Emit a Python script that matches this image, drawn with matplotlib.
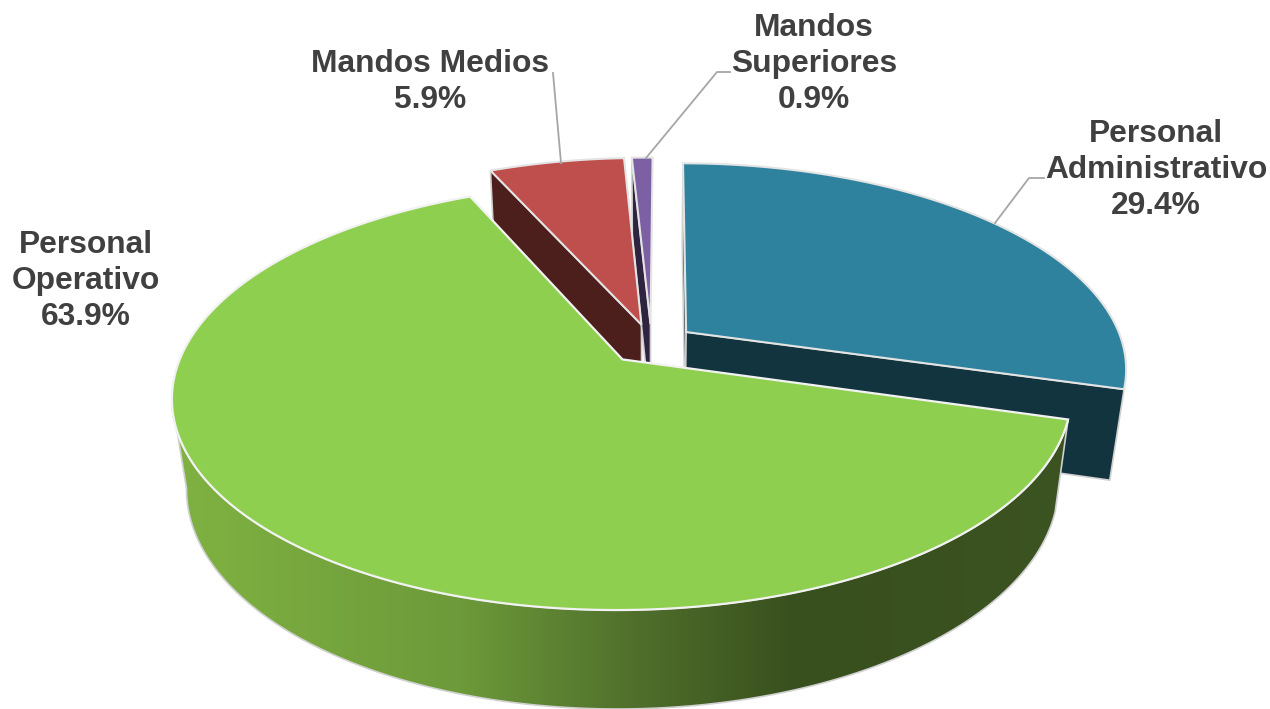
import numpy as np
import matplotlib
matplotlib.use("Agg")
import matplotlib.pyplot as plt
from matplotlib.colors import LinearSegmentedColormap
from matplotlib.patches import Polygon

plt.rcParams['font.family'] = ['Liberation Sans', 'DejaVu Sans']

# data
categorias = ["Personal\nAdministrativo", "Personal\nOperativo", "Mandos Medios", "Mandos\nSuperiores"]
valores = [29.4, 63.9, 5.9, 0.9]
color_top = ["#2E829E", "#8FCF50", "#BE4F4C", "#7D5FA3"]
color_side = ["#12343F", "#3A5120", "#4C1E1C", "#2E2440"]

# label placement (pixels)
pos_label = [(1156, 170), (86, 281), (430, 82), (814, 64)]
lideres = [[(995, 223), (1029, 178), (1044, 178)],
           [],
           [(561, 163), (553, 73)],
           [(646, 158), (717, 72), (730, 72)]]

# 3d view of the pie
cx, cy = 651.5, 344
rx, ry = 437, 201.6
k, kz = 0.172, 0.03
alto = 91.6
explode = 0.1
inicio = 0.3


def proj(u, v, z=0.0):
    w = 1 + k * np.asarray(v) + kz * z
    return cx + rx * np.asarray(u) / w, cy + (-ry * np.asarray(v) + alto * z) / w


fig = plt.figure(figsize=(12.7, 7.09), dpi=100)
ax = fig.add_axes([0, 0, 1, 1])

total = sum(valores)
angulos = inicio + np.cumsum([0] + valores) / total * 360
slices = []
for i in range(len(valores)):
    a0, a1 = angulos[i], angulos[i + 1]
    mid = np.radians((a0 + a1) / 2)
    du, dv = explode * np.sin(mid), explode * np.cos(mid)
    t = np.radians(np.linspace(a0, a1, 400))
    slices.append((du, dv, t))


def rim(i, z=0.0):
    du, dv, t = slices[i]
    return np.column_stack(proj(du + np.sin(t), dv + np.cos(t), z))


def apex(i, z=0.0):
    du, dv, t = slices[i]
    return np.array(proj(du, dv, z))


def cara(i, extremo):
    # flat cut face between apex and one end of the rim
    r0, r1 = rim(i), rim(i, 1.0)
    idx = 0 if extremo == 0 else -1
    return [apex(i), r0[idx], r1[idx], apex(i, 1.0)]


def pared(i):
    # visible wall only: from the slice end round to the left silhouette
    arriba, abajo = rim(i), rim(i, 1.0)
    ia, ib = np.argmin(arriba[:, 0]), np.argmin(abajo[:, 0])
    return np.vstack([arriba[:ia + 1], abajo[:ib + 1][::-1]])


borde = "#D0D0D0"
# back slices first: faces, then tops
for i, extremo in [(0, 0), (0, 1), (2, 0), (3, 0)]:
    ax.add_patch(Polygon(cara(i, extremo), closed=True, fc=color_side[i], ec=borde, lw=1.2, zorder=2))
for i in [0, 2, 3]:
    ax.add_patch(Polygon(np.vstack([apex(i), rim(i)]), closed=True, fc=color_top[i], ec="#E4E4E4", lw=1.5, zorder=3))

# green wall with horizontal gradient
grad_x = [165, 460, 640, 800, 1075]
grad_c = ["#80B342", "#6D9A3A", "#4F6E2B", "#384F1E", "#3C5421"]
pos = [(x - grad_x[0]) / (grad_x[-1] - grad_x[0]) for x in grad_x]
cmap = LinearSegmentedColormap.from_list("verde", list(zip(pos, grad_c)))
clip = Polygon(pared(1), closed=True, fc="none", ec=borde, lw=1.2, zorder=5)
ax.add_patch(clip)
img = ax.imshow(np.linspace(0, 1, 512)[None, :], cmap=cmap, aspect="auto", zorder=4,
                extent=(grad_x[0], grad_x[-1], 720, 300))
img.set_clip_path(clip)

ax.add_patch(Polygon(np.vstack([apex(1), rim(1)]), closed=True, fc=color_top[1], ec="#F2F2F2", lw=1.6, zorder=6))

# leader lines
for lin in lideres:
    if lin:
        xs, ys = zip(*lin)
        ax.plot(xs, ys, color="#A6A6A6", lw=1.3, zorder=7)

for nombre, val, (x, y) in zip(categorias, valores, pos_label):
    ax.text(x, y, f"{nombre}\n{val:.1f}%", ha="center", va="center", fontsize=22.9,
            fontweight="bold", color="#404040", linespacing=1.26, zorder=8)

ax.set_xlim(0, 1270)
ax.set_ylim(709, 0)
ax.axis("off")
fig.savefig("out.png", dpi=100, facecolor="white")
